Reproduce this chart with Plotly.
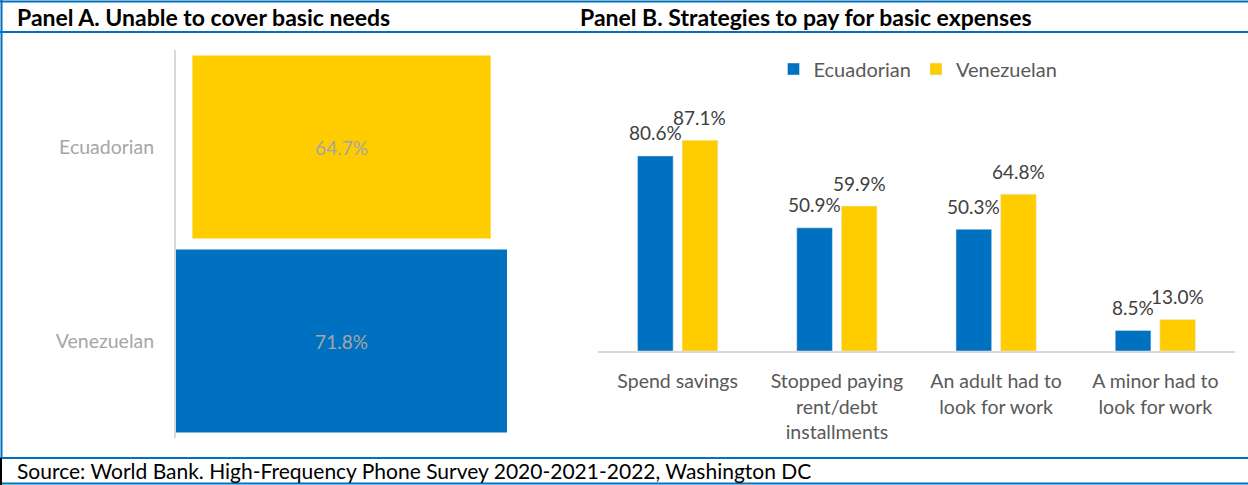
import plotly.graph_objects as go

# ---- data ----
panel_a_groups = ["Ecuadorian", "Venezuelan"]
panel_a_values = [64.7, 71.8]

strategies = [
    "Spend savings",
    "Stopped paying<br>rent/debt<br>installments",
    "An adult had to<br>look for work",
    "A minor had to<br>look for work",
]
ecuadorian = [80.6, 50.9, 50.3, 8.5]
venezuelan = [87.1, 59.9, 64.8, 13.0]

# ---- styling ----
W, H = 1248, 485
BLUE = "#0070C0"
YELLOW = "#FFCC00"
FRAME = "#0070C0"
FONT = "Lato"

def px_x(x):
    return x / W

def px_y(y):
    return (H - y) / H

fig = go.Figure()

# Panel A: centred bars (funnel)
fig.add_trace(go.Funnel(
    y=panel_a_groups,
    x=panel_a_values,
    marker=dict(color=[YELLOW, BLUE]),
    connector=dict(visible=False),
    texttemplate="%{x:.1f}%",
    textposition="inside",
    insidetextanchor="middle",
    textfont=dict(family=FONT, size=19, color="#A6A6A6"),
    showlegend=False,
    xaxis="x", yaxis="y",
))

# Panel B: grouped bars
fig.add_trace(go.Bar(name="Ecuadorian", x=strategies, y=ecuadorian,
                     marker=dict(color=BLUE), xaxis="x2", yaxis="y2"))
fig.add_trace(go.Bar(name="Venezuelan", x=strategies, y=venezuelan,
                     marker=dict(color=YELLOW), xaxis="x2", yaxis="y2"))

a_dom = [px_x(176), px_x(507)]
b_dom = [px_x(598), px_x(1235)]
bargap, bargroupgap = 0.44, 0.2

# value labels above the Panel B bars
pitch = (b_dom[1] - b_dom[0]) * W / len(strategies)
slot = pitch * (1 - bargap) / 2
annotations = []
for series, shift in ((ecuadorian, -slot / 2), (venezuelan, slot / 2)):
    for cat, val in zip(strategies, series):
        annotations.append(dict(
            x=cat, y=val, xref="x2", yref="y2", text=f"{val:.1f}%",
            showarrow=False, xshift=shift, yshift=23, yanchor="middle",
            font=dict(family=FONT, size=19, color="#404040"),
        ))

# panel headings and source line
annotations += [
    dict(x=px_x(15), y=px_y(17), xref="paper", yref="paper", xanchor="left",
         yanchor="middle", showarrow=False,
         text="<b>Panel A. Unable to cover basic needs</b>",
         font=dict(family=FONT, size=23, color="#000000")),
    dict(x=px_x(578), y=px_y(17), xref="paper", yref="paper", xanchor="left",
         yanchor="middle", showarrow=False,
         text="<b>Panel B. Strategies to pay for basic expenses</b>",
         font=dict(family=FONT, size=23, color="#000000")),
    dict(x=px_x(15), y=px_y(470), xref="paper", yref="paper", xanchor="left",
         yanchor="middle", showarrow=False,
         text="Source: World Bank. High-Frequency Phone Survey 2020-2021-2022, Washington DC",
         font=dict(family=FONT, size=21, color="#000000")),
]

# frame lines
def hline(y, color=FRAME, width=2):
    return dict(type="line", xref="paper", yref="paper", x0=0, x1=1,
                y0=px_y(y), y1=px_y(y), line=dict(color=color, width=width))

shapes = [
    hline(1.5), hline(32), hline(458), hline(483.5),
    dict(type="line", xref="paper", yref="paper", x0=px_x(1.5), x1=px_x(1.5),
         y0=px_y(0), y1=px_y(458), line=dict(color=FRAME, width=2)),
    dict(type="line", xref="paper", yref="paper", x0=px_x(1), x1=px_x(1),
         y0=px_y(458), y1=px_y(485), line=dict(color="#000000", width=2)),
]

half = max(panel_a_values) / 2
fig.update_layout(
    width=W, height=H,
    margin=dict(l=0, r=0, t=0, b=0),
    paper_bgcolor="white", plot_bgcolor="white",
    font=dict(family=FONT),
    funnelgap=0.057,
    barmode="group", bargap=bargap, bargroupgap=bargroupgap,
    xaxis=dict(domain=a_dom, range=[-half, half], visible=False, anchor="y"),
    yaxis=dict(domain=[px_y(438), px_y(50)], anchor="x",
               categoryorder="array", categoryarray=panel_a_groups,
               autorange="reversed",
               showline=True, linecolor="#D9D9D9", linewidth=2,
               ticks="", ticklabelstandoff=16,
               tickfont=dict(family=FONT, size=19.5, color="#A6A6A6")),
    xaxis2=dict(domain=b_dom, anchor="y2", showline=True,
                linecolor="#D9D9D9", linewidth=2, ticks="",
                ticklabelstandoff=12,
                tickfont=dict(family=FONT, size=19.5, color="#595959")),
    yaxis2=dict(domain=[px_y(351), px_y(109)], anchor="x2", range=[0, 100],
                visible=False),
    legend=dict(orientation="h", x=px_x(918), xanchor="center",
                y=px_y(69), yanchor="middle",
                font=dict(family=FONT, size=20, color="#595959"),
                bgcolor="rgba(0,0,0,0)"),
    annotations=annotations,
    shapes=shapes,
)

fig.write_html("out.html")
